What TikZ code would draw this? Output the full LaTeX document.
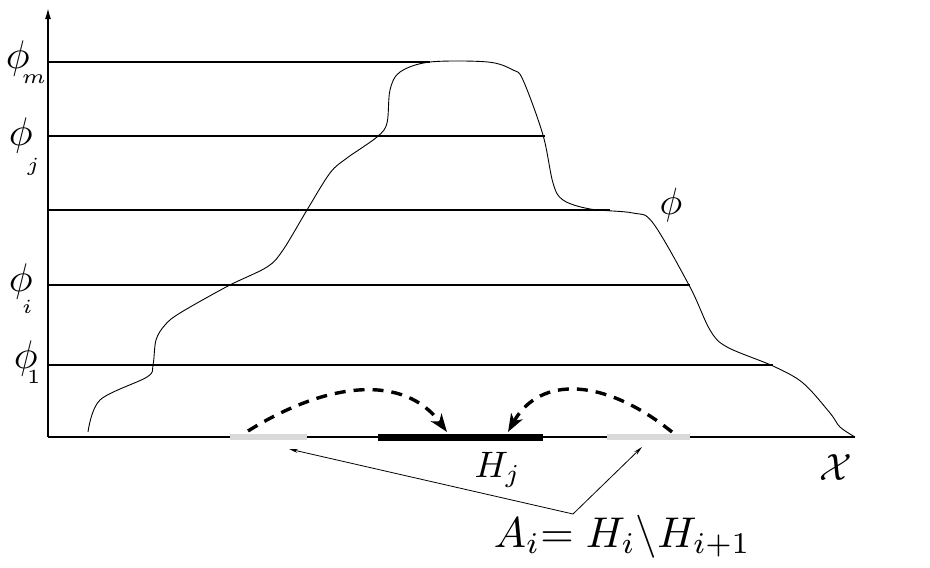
\documentclass[tikz,border=0pt]{standalone}
\usetikzlibrary{arrows.meta}
\newcommand\plab[3]{$\phi\kern#1\lower#2\hbox{$\scriptscriptstyle #3$}$}
\begin{document}
\begin{tikzpicture}[x=1pt,y=-1pt,
  axis/.style={line width=1.5pt},
  level/.style={line width=1.2pt},
  curve/.style={line width=0.9pt},
  greyseg/.style={line width=5.5pt,black!15},
  blackseg/.style={line width=7pt,black},
  hop/.style={dash pattern=on 11pt off 8pt, line width=3.4pt, -{Stealth[length=18pt,width=13pt,inset=5pt]}},
  pointer/.style={line width=0.8pt,-{Stealth[length=9pt,width=4pt]}},
  lab/.style={inner sep=0pt, transform shape, scale=4}]
\useasboundingbox (0,0) rectangle (930,568);
% axes
\coordinate (O) at (48,437);
\coordinate (ytop) at (48,8);
\coordinate (xend) at (855,437);
\draw[axis,-{Latex[length=11pt,width=6pt]}] (O) -- (ytop);
\draw[axis] (O) -- (xend);
% levels
\coordinate (m0) at (48,62);  \coordinate (m1) at (430,62);
\coordinate (j0) at (48,136); \coordinate (j1) at (545,136);
\coordinate (k0) at (48,210); \coordinate (k1) at (610,210);
\coordinate (i0) at (48,285); \coordinate (i1) at (690,285);
\coordinate (a0) at (48,365); \coordinate (a1) at (773,365);
\draw[level] (m0) -- (m1);
\draw[level] (j0) -- (j1);
\draw[level] (k0) -- (k1);
\draw[level] (i0) -- (i1);
\draw[level] (a0) -- (a1);
% curve phi
\draw[curve] plot[smooth, tension=0.55] coordinates {
 (88,432) (100,400) (147,377) (153,365) (156,340) (165,325) (180,313)
 (228,286) (267,267) (283,250) (307,210) (330,173) (347,158) (377,137)
 (387,123) (390,90) (400,72) (430,62) (488,62) (513,70) (523,80) (543,135)
 (553,183) (563,200) (590,209) (633,213) (653,223) (690,287) (710,330)
 (727,347) (773,366) (803,383) (830,413) (840,427) (855,437)};
% segments on the x axis
\coordinate (g1a) at (230,437); \coordinate (g1b) at (307,437);
\coordinate (ha) at (378,437);  \coordinate (hb) at (543,437);
\coordinate (g2a) at (607,437); \coordinate (g2b) at (690,437);
\draw[greyseg] (g1a) -- (g1b);
\draw[greyseg] (g2a) -- (g2b);
\draw[blackseg] (ha) -- (hb);
% dashed arrows
\coordinate (ls) at (248,431); \coordinate (le) at (447,432);
\coordinate (rs) at (672,432); \coordinate (re) at (508,432);
\draw[hop] (ls) .. controls (330,380) and (405,375) .. (le);
\draw[hop] (rs) .. controls (605,378) and (540,375) .. (re);
% labels
\node[lab,anchor=base west] (phim) at (5,68) {\plab{-2pt}{3.75pt}{m}};
\node[lab,anchor=base west] (phij) at (8,145) {\plab{-1.5pt}{6.5pt}{j}};
\node[lab,anchor=base west] (phii) at (8,291) {\plab{-2.7pt}{5.5pt}{i}};
\node[lab,anchor=base west] (phi1) at (13,368) {\plab{-2.7pt}{3.75pt}{1}};
\node[lab,scale=0.95] (phi) at (671,205) {$\phi$};
\node[lab,scale=0.92,anchor=base west] (Hj) at (474,477) {$H_j$};
\node[lab,scale=0.95] (X) at (836,468) {$\mathcal{X}$};
\node[lab,scale=1.075,anchor=base west] (A) at (493,547) {${A_i}{=}\;H_i\backslash H_{i+1}$};
% pointers
\coordinate (J) at (573,514);
\coordinate (pl) at (289,449);
\coordinate (pr) at (642,447);
\draw[pointer] (J) -- (pl);
\draw[pointer] (J) -- (pr);
\end{tikzpicture}
\end{document}
